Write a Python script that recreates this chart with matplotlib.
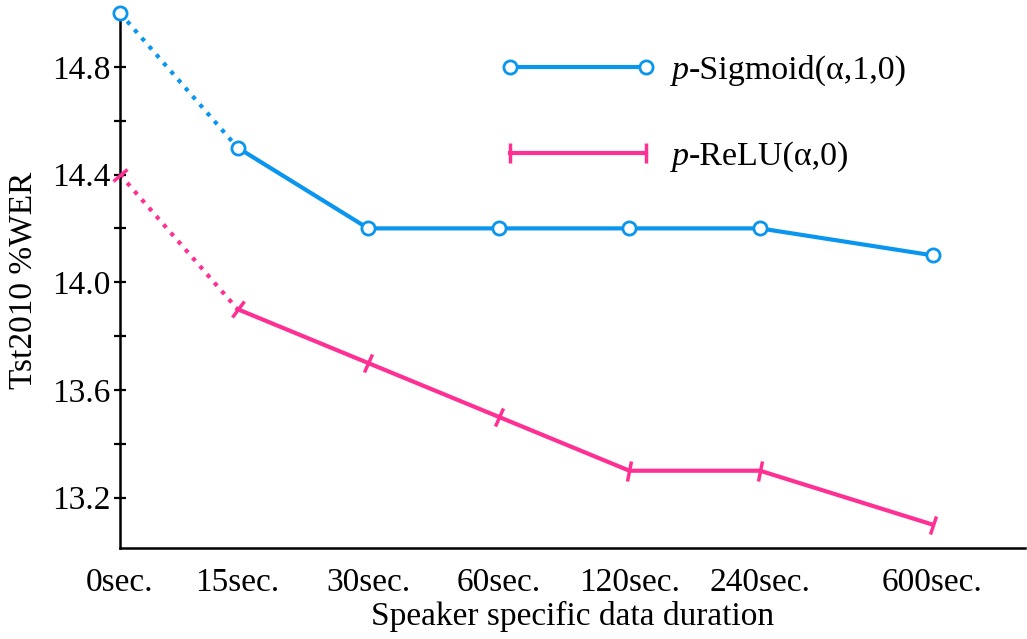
import matplotlib.pyplot as plt
import numpy as np
from matplotlib.ticker import MultipleLocator
from matplotlib.markers import MarkerStyle
from matplotlib.transforms import Affine2D

plt.rcParams['font.family'] = ['Liberation Serif', 'DejaVu Serif']

# data
durations = ['0sec.', '15sec.', '30sec.', '60sec.', '120sec.', '240sec.', '600sec.']
xpos = [0, 0.9, 1.9, 2.9, 3.9, 4.9, 6.22]  # horizontal placement of each duration
sigmoid_wer = [15.0, 14.5, 14.2, 14.2, 14.2, 14.2, 14.1]
relu_wer = [14.4, 13.9, 13.7, 13.5, 13.3, 13.3, 13.1]
labels = ['-Sigmoid(α,1,0)', '-ReLU(α,0)']  # each prefixed by an italic "p"

blue = '#0A96EE'
pink = '#FF3093'

fig = plt.figure(figsize=(10.27, 6.39), dpi=100)
ax = fig.add_axes([0.1168, 0.1424, 0.8815, 0.8373])
ax.set_xlim(0, 6.93)
ax.set_ylim(13.013, 15.0)

# dotted first segment (0sec -> 15sec), solid for the rest
ax.plot(xpos[:2], sigmoid_wer[:2], ':', color=blue, lw=3, clip_on=False)
ax.plot(xpos[:2], relu_wer[:2], ':', color=pink, lw=3, clip_on=False)
ax.plot(xpos[1:], sigmoid_wer[1:], '-', color=blue, lw=3, clip_on=False)
ax.plot(xpos[1:], relu_wer[1:], '-', color=pink, lw=3, clip_on=False)
# markers
ax.plot(xpos, sigmoid_wer, 'o', color=blue, mfc='white', mec=blue, ms=9.5, mew=2,
        clip_on=False, zorder=5)

# pink bars drawn across the line, perpendicular to its local direction
pts = ax.transData.transform(np.column_stack([xpos, relu_wer]))
for i in range(len(xpos)):
    a = pts[max(i - 1, 0)]
    b = pts[min(i + 1, len(xpos) - 1)]
    ang = np.degrees(np.arctan2(b[1] - a[1], b[0] - a[0]))
    m = MarkerStyle('|', transform=Affine2D().rotate_deg(ang))
    ax.plot(xpos[i], relu_wer[i], marker=m, color=pink, ms=14, mew=2.5,
            clip_on=False, zorder=5)

ax.set_xticks(xpos)
ax.set_xticklabels(durations)
ax.yaxis.set_minor_locator(MultipleLocator(0.2))
ax.set_yticks([13.2, 13.6, 14.0, 14.4, 14.8])

ax.spines['top'].set_visible(False)
ax.spines['right'].set_visible(False)
for s in ['left', 'bottom']:
    ax.spines[s].set_linewidth(1.8)
ax.tick_params(axis='x', length=0, labelsize=24, pad=14)
ax.tick_params(axis='y', which='both', direction='inout', length=9, width=1.6,
               labelsize=24, pad=2)

ax.set_xlabel('Speaker specific data duration', fontsize=24, labelpad=2)
ax.set_ylabel('Tst2010 %WER', fontsize=24, labelpad=10)

# legend with markers at both ends of the line
h1 = plt.Line2D([0, 1], [0, 0], color=blue, lw=3, marker='o', mfc='white', mec=blue,
                ms=9.5, mew=2)
h2 = plt.Line2D([0, 1], [0, 0], color=pink, lw=3, marker='|', ms=14, mew=2.5)
leg = ax.legend([h1, h2], labels, numpoints=2, handlelength=4.6, frameon=False,
                fontsize=24.5, loc='upper left', bbox_to_anchor=(0.4045, 0.947),
                borderaxespad=0, labelspacing=1.6, handletextpad=0.96)

# italic "p" in front of each legend label
fig.canvas.draw()
inv = fig.transFigure.inverted()
for t in leg.get_texts():
    bb = t.get_window_extent()
    x0, y0 = inv.transform((bb.x0, bb.y0))
    fig.text(x0, y0, 'p', style='italic', fontsize=24.5, ha='right', va='bottom')

fig.savefig('out.png', dpi=100)
